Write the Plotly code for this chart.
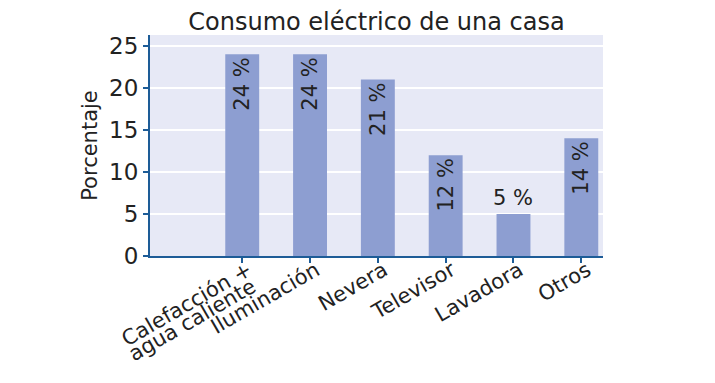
import plotly.graph_objects as go

categories = ["Calefacción + agua caliente", "Iluminación", "Nevera", "Televisor", "Lavadora", "Otros"]
tick_text = ["Calefacción +", "Iluminación", "Nevera", "Televisor", "Lavadora", "Otros"]
second_line_text = "agua caliente"
values = [24, 24, 21, 12, 5, 14]
labels = ["24 %", "24 %", "21 %", "12 %", "", "14 %"]
outside_label = "5 %"
outside_category = "Lavadora"
outside_value = 5
y_ticks = [0, 5, 10, 15, 20, 25]

FONT = "DejaVu Sans"
AX = "#1d5c97"
TXT = "#222222"
XR = [-1.36, 5.32]
YR = [0, 26.3]

fig = go.Figure()
fig.add_trace(go.Bar(
    x=categories, y=values, text=labels,
    textposition="inside", insidetextanchor="end", textangle=-90,
    textfont=dict(family=FONT, size=21, color=TXT),
    marker=dict(color="#8d9ed1", line=dict(width=0)),
    width=0.5, cliponaxis=False, hoverinfo="skip",
))
fig.add_annotation(x=outside_category, y=outside_value, text=outside_label,
                   showarrow=False, yanchor="bottom", yshift=2,
                   font=dict(family=FONT, size=21, color=TXT))
# second line of the first category label
fig.add_annotation(x=categories[0], y=0, text=second_line_text, textangle=-30,
                   showarrow=False, xanchor="center", yanchor="middle",
                   xshift=-50, yshift=-64,
                   font=dict(family=FONT, size=21, color=TXT))

fig.update_layout(
    width=707, height=375,
    margin=dict(l=142, r=112, t=27, b=127, autoexpand=False),
    paper_bgcolor="white", plot_bgcolor="#e7e9f6",
    showlegend=False,
    title=dict(text="Consumo eléctrico de una casa", x=0.5, xref="paper",
               y=0.965, yanchor="middle",
               font=dict(family=FONT, size=24, color=TXT)),
    font=dict(family=FONT, color=TXT),
    xaxis=dict(type="category", range=XR, showgrid=False,
               tickvals=categories, ticktext=tick_text,
               showline=True, linecolor=AX, linewidth=2, automargin=False,
               ticks="outside", ticklen=5, tickcolor=AX, tickwidth=1.5,
               ticklabelstandoff=-13, ticklabelshift=6,
               tickangle=-30, tickfont=dict(family=FONT, size=21, color=TXT)),
    xaxis2=dict(overlaying="x", range=XR, tickvals=list(range(len(categories))),
                showticklabels=False, showgrid=False, zeroline=False, automargin=False,
                ticks="inside", ticklen=4, tickcolor=AX, tickwidth=1.5, side="bottom"),
    yaxis=dict(range=YR, tickvals=y_ticks,
               showgrid=True, gridcolor="white", gridwidth=1.5,
               showline=True, linecolor=AX, linewidth=2, automargin=False,
               ticks="outside", ticklen=5, tickcolor=AX, tickwidth=1.5,
               zeroline=False,
               tickfont=dict(family=FONT, size=23, color=TXT),
               title=dict(text="Porcentaje", standoff=6,
                          font=dict(family=FONT, size=21, color=TXT))),
    yaxis2=dict(overlaying="y", range=YR, tickvals=y_ticks,
                showticklabels=False, showgrid=False, zeroline=False, automargin=False,
                ticks="inside", ticklen=4, tickcolor=AX, tickwidth=1.5, side="left"),
)
fig.write_html("out.html")
